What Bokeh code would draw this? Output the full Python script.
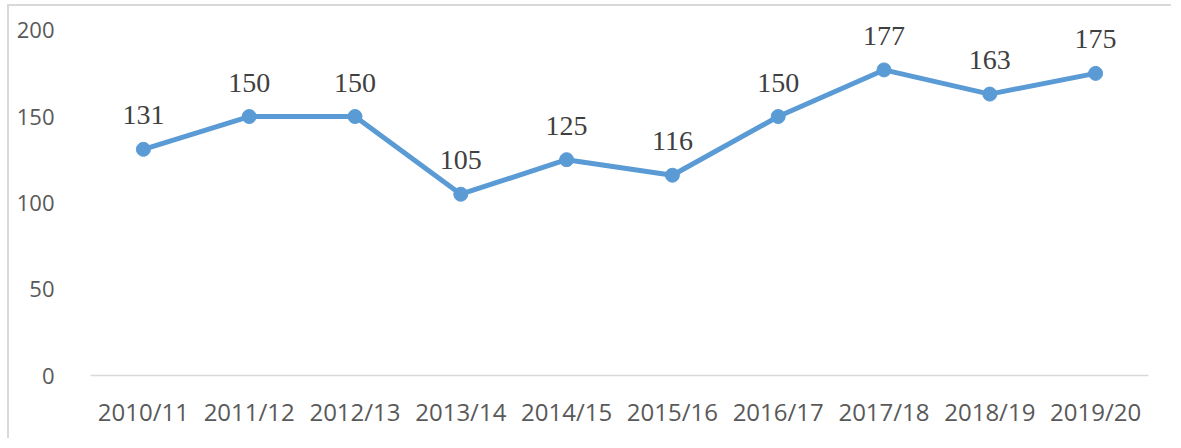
from bokeh.plotting import figure
from bokeh.models import FactorRange, Range1d, FixedTicker, ColumnDataSource
from bokeh.core.properties import value
from bokeh.embed import file_html
from bokeh.resources import INLINE

seasons = ["2010/11", "2011/12", "2012/13", "2013/14", "2014/15",
           "2015/16", "2016/17", "2017/18", "2018/19", "2019/20"]
counts = [131, 150, 150, 105, 125, 116, 150, 177, 163, 175]
y_ticks = [0, 50, 100, 150, 200]

src = ColumnDataSource(dict(x=seasons, y=counts, t=[str(v) for v in counts]))

p = figure(width=1164, height=434, output_backend="svg", toolbar_location=None,
           x_range=FactorRange(*seasons, range_padding=0),
           y_range=Range1d(0, 212),
           min_border_left=81, min_border_right=25,
           min_border_top=3, min_border_bottom=65)
p.styles = {"border-left": "2px solid #d9d9d9", "border-top": "2px solid #d9d9d9",
            "margin-left": "7px", "margin-top": "4px"}
p.outline_line_color = None
p.xgrid.grid_line_color = None
p.ygrid.grid_line_color = None

p.line("x", "y", source=src, line_color="#5b9bd5", line_width=5)
p.scatter("x", "y", source=src, size=14, fill_color="#5b9bd5", line_color="#5b9bd5")
p.text("x", "y", text="t", source=src, text_align="center", text_baseline="alphabetic",
       y_offset=-34, text_font=value("Liberation Serif"), text_font_size="28px",
       text_color="#404040")

p.yaxis.ticker = FixedTicker(ticks=y_ticks)
p.yaxis.axis_line_color = None
p.yaxis.major_tick_line_color = None
p.yaxis.minor_tick_line_color = None
p.yaxis.major_label_standoff = 30
p.yaxis.major_label_text_font = "Open Sans"
p.yaxis.major_label_text_font_size = "22px"
p.yaxis.major_label_text_color = "#595959"

p.xaxis.axis_line_color = "#d9d9d9"
p.xaxis.axis_line_width = 1.5
p.xaxis.major_tick_line_color = None
p.xaxis.minor_tick_line_color = None
p.xaxis.major_label_standoff = 13
p.xaxis.major_label_text_font = "Open Sans"
p.xaxis.major_label_text_font_size = "24px"
p.xaxis.major_label_text_color = "#595959"

open("out.html", "w").write(file_html(p, INLINE))
